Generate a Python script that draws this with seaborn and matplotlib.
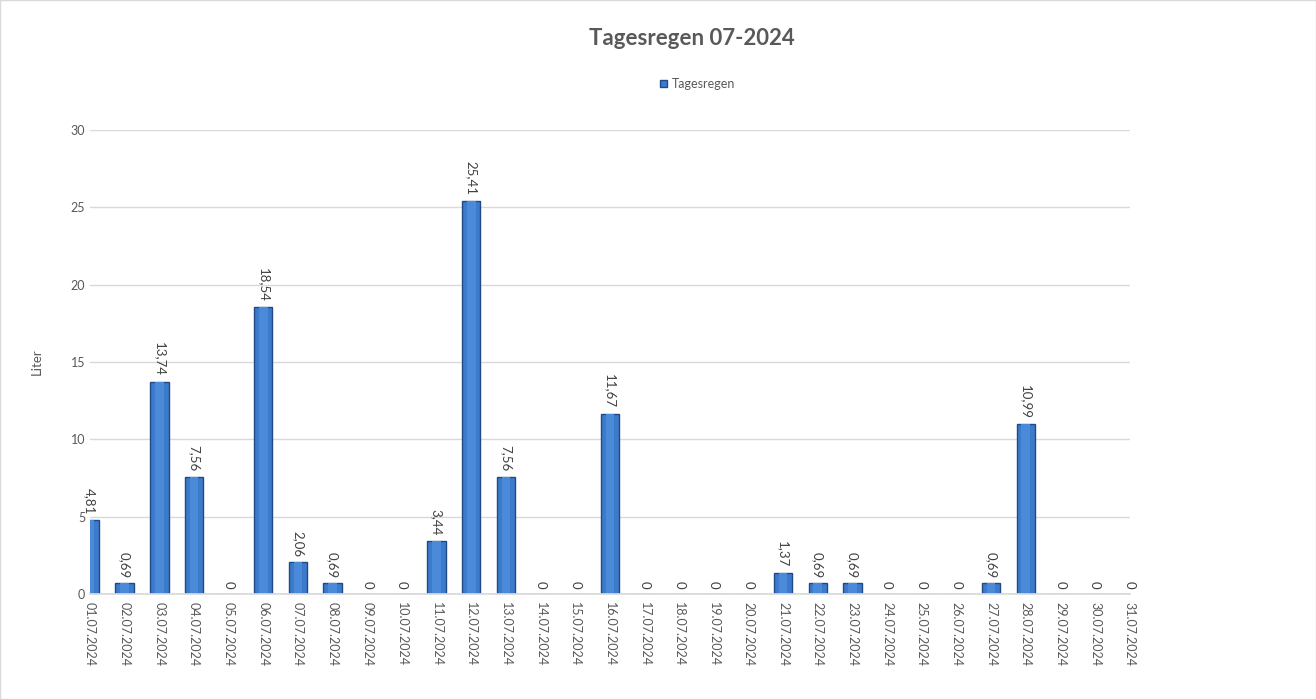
import pandas as pd
import matplotlib.pyplot as plt
import matplotlib.patches as mpatches
import seaborn as sns

# Tagesregen Juli 2024 (Liter)
tage = [f"{d:02d}.07.2024" for d in range(1, 32)]
regen = [4.81, 0.69, 13.74, 7.56, 0, 18.54, 2.06, 0.69, 0, 0,
         3.44, 25.41, 7.56, 0, 0, 11.67, 0, 0, 0, 0,
         1.37, 0.69, 0.69, 0, 0, 0, 0.69, 10.99, 0, 0, 0]
y_ticks = [0, 5, 10, 15, 20, 25, 30]

df = pd.DataFrame({"Datum": tage, "Tagesregen": regen})

sns.set_theme(style="white")
plt.rcParams['font.family'] = ['Lato', 'DejaVu Sans']

BLAU = "#3c7bcc"
RAND = "#1f4a85"
GRAU = "#595959"

fig = plt.figure(figsize=(13.16, 6.99), dpi=100)
ax = fig.add_axes([0.0684, 0.150, 0.790, 0.664])

sns.barplot(data=df, x="Datum", y="Tagesregen", color=BLAU, width=0.53,
            edgecolor=RAND, linewidth=1.0, saturation=1, ax=ax)

# heller Schimmer in der Balkenmitte (Excel-3D-Optik)
sns.barplot(data=df, x="Datum", y="Tagesregen", color="#4a8ad8", width=0.25,
            linewidth=0, saturation=1, ax=ax)

ax.set_xlim(0, 30)
ax.set_ylim(0, 30)
ax.set_yticks(y_ticks)
ax.yaxis.grid(True, color="#d9d9d9", linewidth=1)
ax.set_axisbelow(True)
for s in ["top", "right", "left"]:
    ax.spines[s].set_visible(False)
ax.spines["bottom"].set_color("#d9d9d9")
ax.tick_params(axis="both", length=0, colors=GRAU, labelsize=9)
ax.tick_params(axis="x", pad=6)
plt.setp(ax.get_xticklabels(), rotation=270, ha="center", va="top")
ax.set_xlabel("")
ax.set_ylabel("Liter", color=GRAU, fontsize=9.5, labelpad=20)

# Datenbeschriftungen
for i, v in enumerate(regen):
    txt = f"{v:.2f}".replace(".", ",") if v else "0"
    ax.annotate(txt, (i, v), xytext=(0, 4), textcoords="offset points",
                rotation=270, ha="center", va="bottom", fontsize=9.5,
                color="#404040", annotation_clip=False)

fig.suptitle("Tagesregen 07-2024", x=0.526, y=0.96, fontsize=16,
             fontweight="bold", color=GRAU)
handle = mpatches.Patch(facecolor=BLAU, edgecolor=RAND, label="Tagesregen")
fig.legend(handles=[handle], loc="center", bbox_to_anchor=(0.53, 0.88),
           frameon=False, fontsize=9, labelcolor=GRAU,
           handlelength=0.6, handleheight=0.6, handletextpad=0.4)

fig.patches.append(mpatches.Rectangle((0, 0), 1, 1, transform=fig.transFigure,
                                      fill=False, edgecolor="#d9d9d9", linewidth=1))

plt.savefig("out.png", dpi=100)
